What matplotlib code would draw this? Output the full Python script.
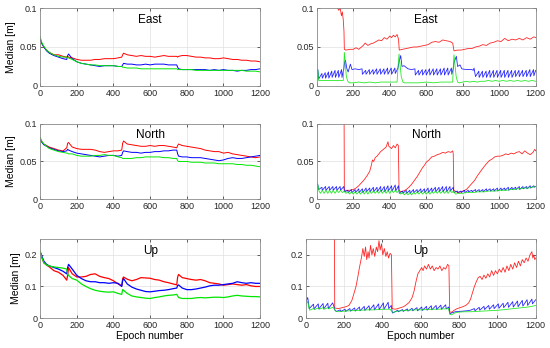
import matplotlib
matplotlib.use("Agg")
import matplotlib.pyplot as plt
from matplotlib.ticker import FuncFormatter

plt.rcParams["font.family"] = ["Liberation Sans", "DejaVu Sans"]

# ---- left column: shared epoch grid ----
epochs = [0, 10, 20, 35, 50, 75, 100, 125, 145, 150, 155, 175, 200, 225, 250, 275, 300, 325,
          350, 375, 400, 425, 445, 450, 455, 475, 500, 525, 550, 575, 600, 625, 650, 675, 700,
          725, 745, 750, 755, 775, 800, 825, 850, 875, 900, 925, 950, 975, 1000, 1025, 1050,
          1075, 1100, 1125, 1150, 1175, 1200]

east_red = [0.060, 0.054, 0.050, 0.046, 0.043, 0.040, 0.040, 0.038, 0.037, 0.038, 0.037, 0.036,
            0.034, 0.033, 0.033, 0.033, 0.034, 0.034, 0.035, 0.035, 0.035, 0.036, 0.037, 0.040,
            0.042, 0.040, 0.039, 0.038, 0.039, 0.038, 0.038, 0.037, 0.038, 0.039, 0.038, 0.038,
            0.038, 0.037, 0.038, 0.039, 0.039, 0.038, 0.037, 0.037, 0.036, 0.036, 0.035, 0.035,
            0.036, 0.035, 0.034, 0.034, 0.033, 0.033, 0.032, 0.032, 0.031]
east_blue = [0.060, 0.054, 0.050, 0.045, 0.042, 0.039, 0.037, 0.035, 0.034, 0.039, 0.041, 0.035,
             0.031, 0.029, 0.028, 0.027, 0.026, 0.025, 0.026, 0.026, 0.026, 0.025, 0.025, 0.027,
             0.029, 0.028, 0.028, 0.027, 0.027, 0.028, 0.027, 0.028, 0.028, 0.028, 0.027, 0.027,
             0.027, 0.024, 0.022, 0.021, 0.021, 0.021, 0.021, 0.021, 0.021, 0.020, 0.021, 0.020,
             0.021, 0.020, 0.020, 0.019, 0.020, 0.020, 0.021, 0.021, 0.022]
east_green = [0.063, 0.055, 0.051, 0.046, 0.043, 0.040, 0.038, 0.037, 0.037, 0.036, 0.036, 0.034,
              0.031, 0.029, 0.028, 0.027, 0.027, 0.026, 0.026, 0.026, 0.026, 0.025, 0.025, 0.024,
              0.024, 0.023, 0.023, 0.023, 0.022, 0.022, 0.022, 0.022, 0.022, 0.022, 0.022, 0.022,
              0.022, 0.021, 0.021, 0.021, 0.021, 0.021, 0.020, 0.020, 0.020, 0.020, 0.020, 0.020,
              0.020, 0.020, 0.020, 0.020, 0.020, 0.019, 0.019, 0.019, 0.018]

north_red = [0.080, 0.076, 0.073, 0.071, 0.069, 0.067, 0.065, 0.064, 0.068, 0.074, 0.075, 0.069,
             0.067, 0.066, 0.066, 0.066, 0.065, 0.063, 0.062, 0.063, 0.064, 0.064, 0.065, 0.074,
             0.077, 0.073, 0.072, 0.071, 0.070, 0.070, 0.071, 0.070, 0.071, 0.071, 0.070, 0.069,
             0.068, 0.071, 0.073, 0.071, 0.070, 0.069, 0.068, 0.067, 0.065, 0.064, 0.063, 0.063,
             0.061, 0.062, 0.060, 0.059, 0.058, 0.057, 0.056, 0.055, 0.056]
north_blue = [0.079, 0.075, 0.072, 0.070, 0.068, 0.066, 0.064, 0.063, 0.064, 0.066, 0.065, 0.063,
              0.061, 0.060, 0.059, 0.058, 0.057, 0.056, 0.057, 0.058, 0.058, 0.057, 0.058, 0.062,
              0.064, 0.063, 0.062, 0.062, 0.061, 0.062, 0.062, 0.063, 0.063, 0.064, 0.064, 0.065,
              0.065, 0.060, 0.057, 0.056, 0.056, 0.055, 0.055, 0.055, 0.054, 0.053, 0.052, 0.051,
              0.052, 0.054, 0.055, 0.054, 0.054, 0.055, 0.056, 0.057, 0.058]
north_green = [0.082, 0.076, 0.073, 0.070, 0.067, 0.065, 0.063, 0.062, 0.061, 0.061, 0.060, 0.060,
               0.058, 0.057, 0.057, 0.057, 0.058, 0.058, 0.059, 0.058, 0.058, 0.056, 0.055, 0.054,
               0.054, 0.054, 0.054, 0.055, 0.055, 0.056, 0.056, 0.056, 0.056, 0.055, 0.055, 0.054,
               0.054, 0.051, 0.050, 0.050, 0.050, 0.049, 0.049, 0.049, 0.048, 0.048, 0.048, 0.047,
               0.047, 0.047, 0.047, 0.046, 0.046, 0.045, 0.045, 0.044, 0.043]

up_red = [0.210, 0.190, 0.175, 0.168, 0.162, 0.150, 0.145, 0.135, 0.120, 0.135, 0.160, 0.140,
          0.130, 0.130, 0.132, 0.138, 0.140, 0.132, 0.128, 0.125, 0.118, 0.108, 0.102, 0.125,
          0.130, 0.123, 0.118, 0.122, 0.128, 0.127, 0.126, 0.122, 0.120, 0.115, 0.112, 0.108,
          0.105, 0.130, 0.138, 0.128, 0.125, 0.122, 0.120, 0.122, 0.118, 0.112, 0.110, 0.108,
          0.104, 0.106, 0.108, 0.106, 0.104, 0.106, 0.102, 0.100, 0.100]
up_blue = [0.210, 0.195, 0.180, 0.170, 0.165, 0.160, 0.155, 0.148, 0.140, 0.160, 0.170, 0.155,
           0.135, 0.125, 0.118, 0.115, 0.115, 0.112, 0.112, 0.110, 0.112, 0.110, 0.100, 0.118,
           0.125, 0.108, 0.098, 0.092, 0.088, 0.084, 0.083, 0.085, 0.087, 0.088, 0.090, 0.093,
           0.095, 0.103, 0.105, 0.095, 0.090, 0.090, 0.092, 0.095, 0.098, 0.102, 0.104, 0.104,
           0.106, 0.108, 0.110, 0.115, 0.112, 0.110, 0.112, 0.110, 0.110]
up_green = [0.212, 0.190, 0.175, 0.168, 0.165, 0.162, 0.160, 0.158, 0.155, 0.140, 0.135, 0.125,
            0.120, 0.108, 0.100, 0.093, 0.088, 0.085, 0.083, 0.082, 0.083, 0.078, 0.075, 0.090,
            0.088, 0.078, 0.070, 0.067, 0.065, 0.063, 0.062, 0.065, 0.067, 0.070, 0.072, 0.073,
            0.075, 0.070, 0.065, 0.062, 0.062, 0.062, 0.064, 0.065, 0.064, 0.065, 0.066, 0.066,
            0.065, 0.067, 0.070, 0.072, 0.070, 0.069, 0.068, 0.068, 0.067]

# ---- right column: (epoch, median) pairs ----
r_east_red = [(106, 0.12), (112, 0.101), (120, 0.097), (128, 0.100), (135, 0.090), (140, 0.095),
              (145, 0.085), (149, 0.070), (151, 0.047), (160, 0.046), (180, 0.047), (200, 0.047),
              (215, 0.049), (230, 0.047), (245, 0.050), (255, 0.052), (265, 0.055), (280, 0.052),
              (295, 0.054), (310, 0.055), (325, 0.057), (340, 0.059), (355, 0.058), (370, 0.062),
              (385, 0.060), (400, 0.064), (410, 0.062), (420, 0.065), (430, 0.063), (440, 0.066),
              (448, 0.060), (452, 0.046), (470, 0.047), (490, 0.048), (510, 0.049), (530, 0.050),
              (550, 0.050), (570, 0.051), (590, 0.052), (610, 0.053), (630, 0.056), (650, 0.057),
              (670, 0.056), (690, 0.059), (710, 0.058), (730, 0.057), (745, 0.055), (752, 0.045),
              (770, 0.046), (790, 0.046), (810, 0.047), (830, 0.048), (850, 0.048), (870, 0.050),
              (890, 0.051), (910, 0.053), (930, 0.052), (950, 0.055), (970, 0.056), (990, 0.058),
              (1010, 0.057), (1030, 0.061), (1050, 0.058), (1070, 0.060), (1090, 0.059),
              (1110, 0.061), (1130, 0.059), (1150, 0.062), (1170, 0.060), (1190, 0.063), (1200, 0.062)]
r_east_blue = [(0, 0.020), (6, 0.021), (10, 0.009),
               (28, 0.016), (30, 0.010), (46, 0.017), (48, 0.010), (64, 0.018), (66, 0.010),
               (82, 0.019), (84, 0.011), (100, 0.020), (102, 0.011), (118, 0.020), (120, 0.011),
               (136, 0.021), (138, 0.011), (148, 0.022),
               (152, 0.030), (157, 0.033), (165, 0.022), (172, 0.018), (184, 0.028), (193, 0.021),
               (210, 0.022), (230, 0.021), (248, 0.022), (250, 0.015),
               (268, 0.020), (270, 0.015), (288, 0.021), (290, 0.015), (308, 0.021), (310, 0.015),
               (328, 0.022), (330, 0.015), (348, 0.022), (350, 0.015), (368, 0.022), (370, 0.015),
               (388, 0.023), (390, 0.015), (408, 0.023), (410, 0.015), (428, 0.023), (430, 0.016),
               (445, 0.023),
               (450, 0.030), (460, 0.039), (467, 0.025), (478, 0.026), (500, 0.022), (520, 0.021),
               (538, 0.022), (540, 0.014),
               (558, 0.020), (560, 0.014), (578, 0.021), (580, 0.014), (598, 0.021), (600, 0.014),
               (618, 0.022), (620, 0.014), (638, 0.022), (640, 0.014), (658, 0.022), (660, 0.014),
               (678, 0.022), (680, 0.014), (698, 0.023), (700, 0.014), (718, 0.023), (720, 0.014),
               (738, 0.023), (740, 0.015), (748, 0.022),
               (752, 0.030), (765, 0.038), (772, 0.025), (785, 0.027), (795, 0.022), (820, 0.021),
               (850, 0.021), (858, 0.020), (862, 0.023), (870, 0.012),
               (888, 0.019), (890, 0.011), (908, 0.019), (910, 0.011), (928, 0.019), (930, 0.011),
               (948, 0.020), (950, 0.011), (968, 0.020), (970, 0.011), (988, 0.020), (990, 0.011),
               (1008, 0.020), (1010, 0.011), (1028, 0.020), (1030, 0.011), (1048, 0.020),
               (1050, 0.011), (1068, 0.020), (1070, 0.011), (1088, 0.020), (1090, 0.012),
               (1108, 0.020), (1110, 0.012), (1128, 0.020), (1130, 0.012), (1148, 0.020),
               (1150, 0.012), (1168, 0.021), (1170, 0.012), (1188, 0.021), (1190, 0.013),
               (1200, 0.020)]
r_east_green = [(0, 0.020), (6, 0.020), (10, 0.007), (50, 0.007), (100, 0.007), (145, 0.007),
                (149, 0.030), (151, 0.043), (156, 0.030), (162, 0.012), (170, 0.006), (178, 0.004),
                (200, 0.004), (230, 0.005), (260, 0.004), (290, 0.005), (320, 0.004), (350, 0.005),
                (380, 0.005), (410, 0.005), (440, 0.005), (447, 0.030), (451, 0.041), (456, 0.028),
                (463, 0.012), (472, 0.005), (480, 0.004), (520, 0.004), (560, 0.004), (600, 0.005),
                (640, 0.004), (680, 0.005), (720, 0.005), (745, 0.005), (749, 0.028), (752, 0.040),
                (757, 0.028), (764, 0.012), (772, 0.005), (782, 0.004), (800, 0.005), (820, 0.006),
                (840, 0.005), (860, 0.006), (880, 0.005), (900, 0.006), (920, 0.006), (940, 0.007),
                (960, 0.006), (980, 0.007), (1000, 0.006), (1020, 0.007), (1040, 0.006),
                (1060, 0.007), (1080, 0.006), (1100, 0.007), (1120, 0.006), (1140, 0.007),
                (1160, 0.006), (1180, 0.007), (1200, 0.006)]

r_north_red = [(145, 0.20), (149, 0.15), (151, 0.012), (160, 0.012), (180, 0.012), (200, 0.013),
               (215, 0.015), (230, 0.018), (245, 0.022), (260, 0.026), (275, 0.031), (290, 0.037),
               (300, 0.046), (305, 0.052), (312, 0.050), (320, 0.055), (330, 0.057), (340, 0.060),
               (350, 0.063), (360, 0.065), (370, 0.067), (380, 0.069), (390, 0.076), (395, 0.070),
               (400, 0.069), (410, 0.067), (420, 0.071), (430, 0.068), (440, 0.073), (447, 0.071),
               (451, 0.012), (460, 0.010), (475, 0.011), (490, 0.013), (505, 0.016), (520, 0.020),
               (535, 0.025), (550, 0.030), (565, 0.036), (580, 0.042), (590, 0.045), (600, 0.049),
               (615, 0.052), (630, 0.056), (645, 0.057), (660, 0.059), (675, 0.060), (690, 0.062),
               (705, 0.061), (720, 0.063), (735, 0.062), (745, 0.064), (748, 0.060), (751, 0.012),
               (765, 0.010), (780, 0.009), (800, 0.011), (820, 0.013), (835, 0.017), (850, 0.021),
               (865, 0.025), (880, 0.031), (895, 0.036), (910, 0.041), (920, 0.044), (930, 0.047),
               (945, 0.051), (960, 0.053), (975, 0.056), (990, 0.057), (1005, 0.057), (1020, 0.058),
               (1035, 0.060), (1050, 0.059), (1065, 0.061), (1080, 0.060), (1095, 0.062),
               (1110, 0.063), (1125, 0.060), (1140, 0.064), (1155, 0.061), (1170, 0.059),
               (1185, 0.062), (1195, 0.066), (1200, 0.064)]
r_north_blue = [(0, 0.021), (5, 0.020), (10, 0.013),
                (28, 0.016), (30, 0.012), (48, 0.017), (50, 0.012), (68, 0.017), (70, 0.012),
                (88, 0.017), (90, 0.012), (108, 0.017), (110, 0.012), (128, 0.017), (130, 0.012),
                (148, 0.017),
                (152, 0.010), (170, 0.012), (172, 0.009), (190, 0.013), (192, 0.009), (210, 0.013),
                (212, 0.009), (230, 0.014), (232, 0.009), (250, 0.014), (252, 0.009), (270, 0.015),
                (272, 0.010), (290, 0.015), (292, 0.010), (310, 0.016), (312, 0.010), (330, 0.016),
                (332, 0.010), (350, 0.017), (352, 0.010), (370, 0.017), (372, 0.010), (390, 0.018),
                (392, 0.011), (410, 0.018), (412, 0.011), (430, 0.019), (432, 0.011), (448, 0.018),
                (452, 0.008), (470, 0.011), (472, 0.008), (490, 0.012), (492, 0.008), (510, 0.012),
                (512, 0.008), (530, 0.013), (532, 0.009), (550, 0.013), (552, 0.009), (570, 0.014),
                (572, 0.009), (590, 0.014), (592, 0.009), (610, 0.015), (612, 0.009), (630, 0.015),
                (632, 0.010), (650, 0.016), (652, 0.010), (670, 0.016), (672, 0.010), (690, 0.017),
                (692, 0.010), (710, 0.017), (712, 0.010), (730, 0.017), (732, 0.011), (748, 0.016),
                (752, 0.009), (770, 0.011), (772, 0.009), (790, 0.011), (792, 0.009), (810, 0.012),
                (812, 0.009), (830, 0.012), (832, 0.010), (850, 0.012), (852, 0.010), (870, 0.013),
                (872, 0.010), (890, 0.013), (892, 0.010), (910, 0.013), (912, 0.010), (930, 0.014),
                (932, 0.011), (950, 0.014), (952, 0.011), (970, 0.014), (972, 0.011), (990, 0.015),
                (992, 0.011), (1010, 0.015), (1012, 0.012), (1030, 0.015), (1032, 0.012),
                (1050, 0.016), (1052, 0.012), (1070, 0.016), (1072, 0.013), (1090, 0.016),
                (1092, 0.013), (1110, 0.017), (1112, 0.013), (1130, 0.017), (1132, 0.014),
                (1150, 0.017), (1152, 0.014), (1170, 0.018), (1172, 0.015), (1190, 0.018),
                (1192, 0.016), (1200, 0.017)]
r_north_green = [(0, 0.020), (6, 0.019), (12, 0.011), (20, 0.008), (30, 0.012), (40, 0.008),
                 (50, 0.012), (60, 0.008), (70, 0.012), (80, 0.008), (90, 0.012), (100, 0.008),
                 (110, 0.012), (120, 0.009), (130, 0.012), (140, 0.009), (150, 0.011),
                 (160, 0.008), (170, 0.010), (180, 0.007), (190, 0.010), (200, 0.007), (210, 0.010),
                 (220, 0.007), (230, 0.010), (240, 0.007), (250, 0.011), (260, 0.007), (270, 0.011),
                 (280, 0.007), (290, 0.011), (300, 0.008), (310, 0.011), (320, 0.008), (330, 0.011),
                 (340, 0.008), (350, 0.012), (360, 0.008), (370, 0.012), (380, 0.008), (390, 0.012),
                 (400, 0.008), (410, 0.012), (420, 0.009), (430, 0.012), (440, 0.009), (450, 0.012),
                 (460, 0.007), (470, 0.009), (480, 0.006), (490, 0.009), (500, 0.006), (510, 0.009),
                 (520, 0.006), (530, 0.009), (540, 0.007), (550, 0.010), (560, 0.007), (570, 0.010),
                 (580, 0.007), (590, 0.010), (600, 0.007), (610, 0.010), (620, 0.007), (630, 0.010),
                 (640, 0.008), (650, 0.011), (660, 0.008), (670, 0.011), (680, 0.008), (690, 0.011),
                 (700, 0.008), (710, 0.011), (720, 0.008), (730, 0.012), (740, 0.009), (750, 0.011),
                 (760, 0.007), (780, 0.008), (800, 0.008), (820, 0.009), (840, 0.009), (860, 0.009),
                 (880, 0.010), (900, 0.010), (920, 0.010), (940, 0.011), (960, 0.011), (980, 0.011),
                 (1000, 0.012), (1020, 0.012), (1040, 0.012), (1060, 0.013), (1080, 0.013),
                 (1100, 0.014), (1120, 0.014), (1140, 0.015), (1160, 0.015), (1180, 0.016),
                 (1200, 0.017)]

r_up_red = [(145, 0.30), (149, 0.28), (151, 0.032), (170, 0.030), (190, 0.033), (210, 0.036),
            (225, 0.040), (240, 0.055), (250, 0.075), (262, 0.100), (270, 0.125), (280, 0.160),
            (290, 0.190), (298, 0.220), (305, 0.195), (312, 0.225), (318, 0.185), (325, 0.210),
            (330, 0.190), (338, 0.230), (345, 0.200), (352, 0.220), (360, 0.195), (368, 0.225),
            (375, 0.210), (382, 0.245), (388, 0.215), (395, 0.235), (402, 0.200), (410, 0.220),
            (418, 0.195), (425, 0.210), (432, 0.190), (440, 0.205), (447, 0.200), (451, 0.030),
            (465, 0.028), (480, 0.030), (495, 0.033), (510, 0.036), (525, 0.042), (540, 0.050),
            (555, 0.065), (565, 0.085), (575, 0.115), (585, 0.140), (595, 0.150), (605, 0.160),
            (612, 0.150), (620, 0.165), (630, 0.155), (640, 0.170), (650, 0.155), (660, 0.165),
            (670, 0.150), (680, 0.160), (690, 0.155), (700, 0.165), (710, 0.150), (720, 0.160),
            (730, 0.155), (740, 0.170), (747, 0.165), (751, 0.020), (760, 0.018), (775, 0.025),
            (790, 0.030), (805, 0.033), (820, 0.036), (835, 0.040), (850, 0.048), (860, 0.060),
            (870, 0.080), (880, 0.100), (890, 0.115), (900, 0.128), (910, 0.132), (920, 0.122),
            (930, 0.136), (940, 0.126), (950, 0.140), (960, 0.130), (970, 0.150), (980, 0.135),
            (990, 0.150), (1000, 0.140), (1010, 0.155), (1020, 0.145), (1030, 0.160),
            (1040, 0.145), (1050, 0.165), (1060, 0.150), (1070, 0.170), (1080, 0.155),
            (1090, 0.175), (1100, 0.160), (1110, 0.180), (1120, 0.165), (1130, 0.185),
            (1140, 0.175), (1150, 0.190), (1160, 0.180), (1170, 0.200), (1180, 0.210),
            (1185, 0.190), (1190, 0.200), (1195, 0.185), (1200, 0.190)]
r_up_blue = [(0, 0.050), (5, 0.058), (10, 0.065), (15, 0.045), (18, 0.030),
             (40, 0.044), (43, 0.029), (65, 0.045), (68, 0.029), (90, 0.046), (93, 0.029),
             (115, 0.047), (118, 0.030), (140, 0.048), (145, 0.040),
             (152, 0.025), (160, 0.021), (180, 0.026), (183, 0.021), (205, 0.028), (208, 0.021),
             (230, 0.030), (233, 0.022), (255, 0.032), (258, 0.022), (280, 0.035), (283, 0.023),
             (305, 0.037), (308, 0.024), (330, 0.039), (333, 0.025), (355, 0.042), (358, 0.026),
             (380, 0.045), (383, 0.027), (405, 0.048), (408, 0.028), (430, 0.050), (433, 0.030),
             (446, 0.040),
             (452, 0.016), (460, 0.018), (480, 0.025), (483, 0.020), (505, 0.027), (508, 0.021),
             (530, 0.029), (533, 0.022), (555, 0.031), (558, 0.023), (580, 0.033), (583, 0.023),
             (605, 0.035), (608, 0.024), (630, 0.037), (633, 0.025), (655, 0.039), (658, 0.026),
             (680, 0.040), (683, 0.027), (705, 0.041), (708, 0.028), (730, 0.042), (733, 0.029),
             (746, 0.035),
             (752, 0.013), (760, 0.016), (780, 0.020), (800, 0.021), (820, 0.022), (840, 0.023),
             (860, 0.025), (880, 0.030), (883, 0.023), (905, 0.034), (908, 0.025), (930, 0.037),
             (933, 0.027), (955, 0.040), (958, 0.028), (980, 0.042), (983, 0.030), (1005, 0.045),
             (1008, 0.031), (1030, 0.047), (1033, 0.033), (1055, 0.050), (1058, 0.034),
             (1080, 0.052), (1083, 0.035), (1105, 0.054), (1108, 0.036), (1130, 0.056),
             (1133, 0.038), (1155, 0.058), (1158, 0.040), (1180, 0.060), (1183, 0.045),
             (1200, 0.058)]
r_up_green = [(0, 0.040), (5, 0.048), (10, 0.053), (15, 0.035), (20, 0.025), (40, 0.030),
              (45, 0.027), (65, 0.032), (70, 0.028), (90, 0.033), (95, 0.028), (115, 0.033),
              (120, 0.029), (140, 0.034), (148, 0.030), (155, 0.022), (170, 0.020), (200, 0.022),
              (230, 0.023), (260, 0.024), (290, 0.025), (320, 0.026), (350, 0.026), (380, 0.027),
              (410, 0.028), (440, 0.028), (450, 0.020), (455, 0.018), (480, 0.022), (510, 0.024),
              (540, 0.025), (570, 0.026), (600, 0.026), (630, 0.027), (660, 0.028), (690, 0.028),
              (720, 0.029), (745, 0.030), (752, 0.012), (760, 0.010), (780, 0.017), (800, 0.019),
              (830, 0.020), (860, 0.020), (890, 0.021), (920, 0.022), (950, 0.023), (980, 0.024),
              (1010, 0.025), (1040, 0.027), (1070, 0.029), (1100, 0.031), (1130, 0.033),
              (1160, 0.035), (1180, 0.037), (1200, 0.040)]

titles = ["East", "North", "Up"]
ylims = [0.1, 0.1, 0.25]
yticks = [[0, 0.05, 0.1], [0, 0.05, 0.1], [0, 0.1, 0.2]]
xticks = [0, 200, 400, 600, 800, 1000, 1200]

RED, BLUE, GREEN = "#ff0000", "#0000ff", "#00e600"

fig = plt.figure(figsize=(5.5, 3.48), dpi=100)

# [left, bottom, width, height] for each row / column
rows = [(0.753, 0.224), (0.427, 0.218), (0.086, 0.227)]
left_boxes = [[0.073, b, 0.400, h] for b, h in rows]
right_boxes = [[0.576, rows[0][0], 0.398, rows[0][1]],
               [0.576, rows[1][0], 0.398, rows[1][1]],
               [0.556, rows[2][0], 0.418, rows[2][1]]]

left_data = [(east_red, east_blue, east_green),
             (north_red, north_blue, north_green),
             (up_red, up_blue, up_green)]
right_data = [(r_east_red, r_east_blue, r_east_green),
              (r_north_red, r_north_blue, r_north_green),
              (r_up_red, r_up_blue, r_up_green)]

fmt = FuncFormatter(lambda v, p: "%g" % v)


def style(ax, i):
    ax.set_xlim(0, 1200)
    ax.set_ylim(0, ylims[i])
    ax.set_xticks(xticks)
    ax.set_yticks(yticks[i])
    ax.yaxis.set_major_formatter(fmt)
    ax.tick_params(direction="in", length=2, width=0.5, labelsize=6.5, colors="#262626",
                   pad=2, top=True, right=True)
    ax.grid(True, color="#e0e0e0", linewidth=0.5)
    ax.set_axisbelow(True)
    for s in ax.spines.values():
        s.set_color("#8c8c8c")
        s.set_linewidth(0.6)
    ax.text(0.5, 0.85, titles[i], transform=ax.transAxes, ha="center", va="center",
            fontsize=8.5)


for i in range(3):
    lw = 0.9 if i == 2 else 0.7
    ax = fig.add_axes(left_boxes[i])
    r, b, g = left_data[i]
    ax.plot(epochs, r, color=RED, lw=lw)
    ax.plot(epochs, b, color=BLUE, lw=lw)
    ax.plot(epochs, g, color=GREEN, lw=lw)
    style(ax, i)
    ax.set_ylabel("Median [m]", fontsize=7.5, labelpad=3)
    if i == 2:
        ax.set_xlabel("Epoch number", fontsize=7.5, labelpad=1)

    ax = fig.add_axes(right_boxes[i])
    for series, c in zip(right_data[i], (RED, BLUE, GREEN)):
        xs, ys = zip(*series)
        ax.plot(xs, ys, color=c, lw=0.6, alpha=0.85)
    style(ax, i)
    if i == 2:
        ax.set_xlabel("Epoch number", fontsize=7.5, labelpad=1)

fig.savefig("out.png", dpi=100)
